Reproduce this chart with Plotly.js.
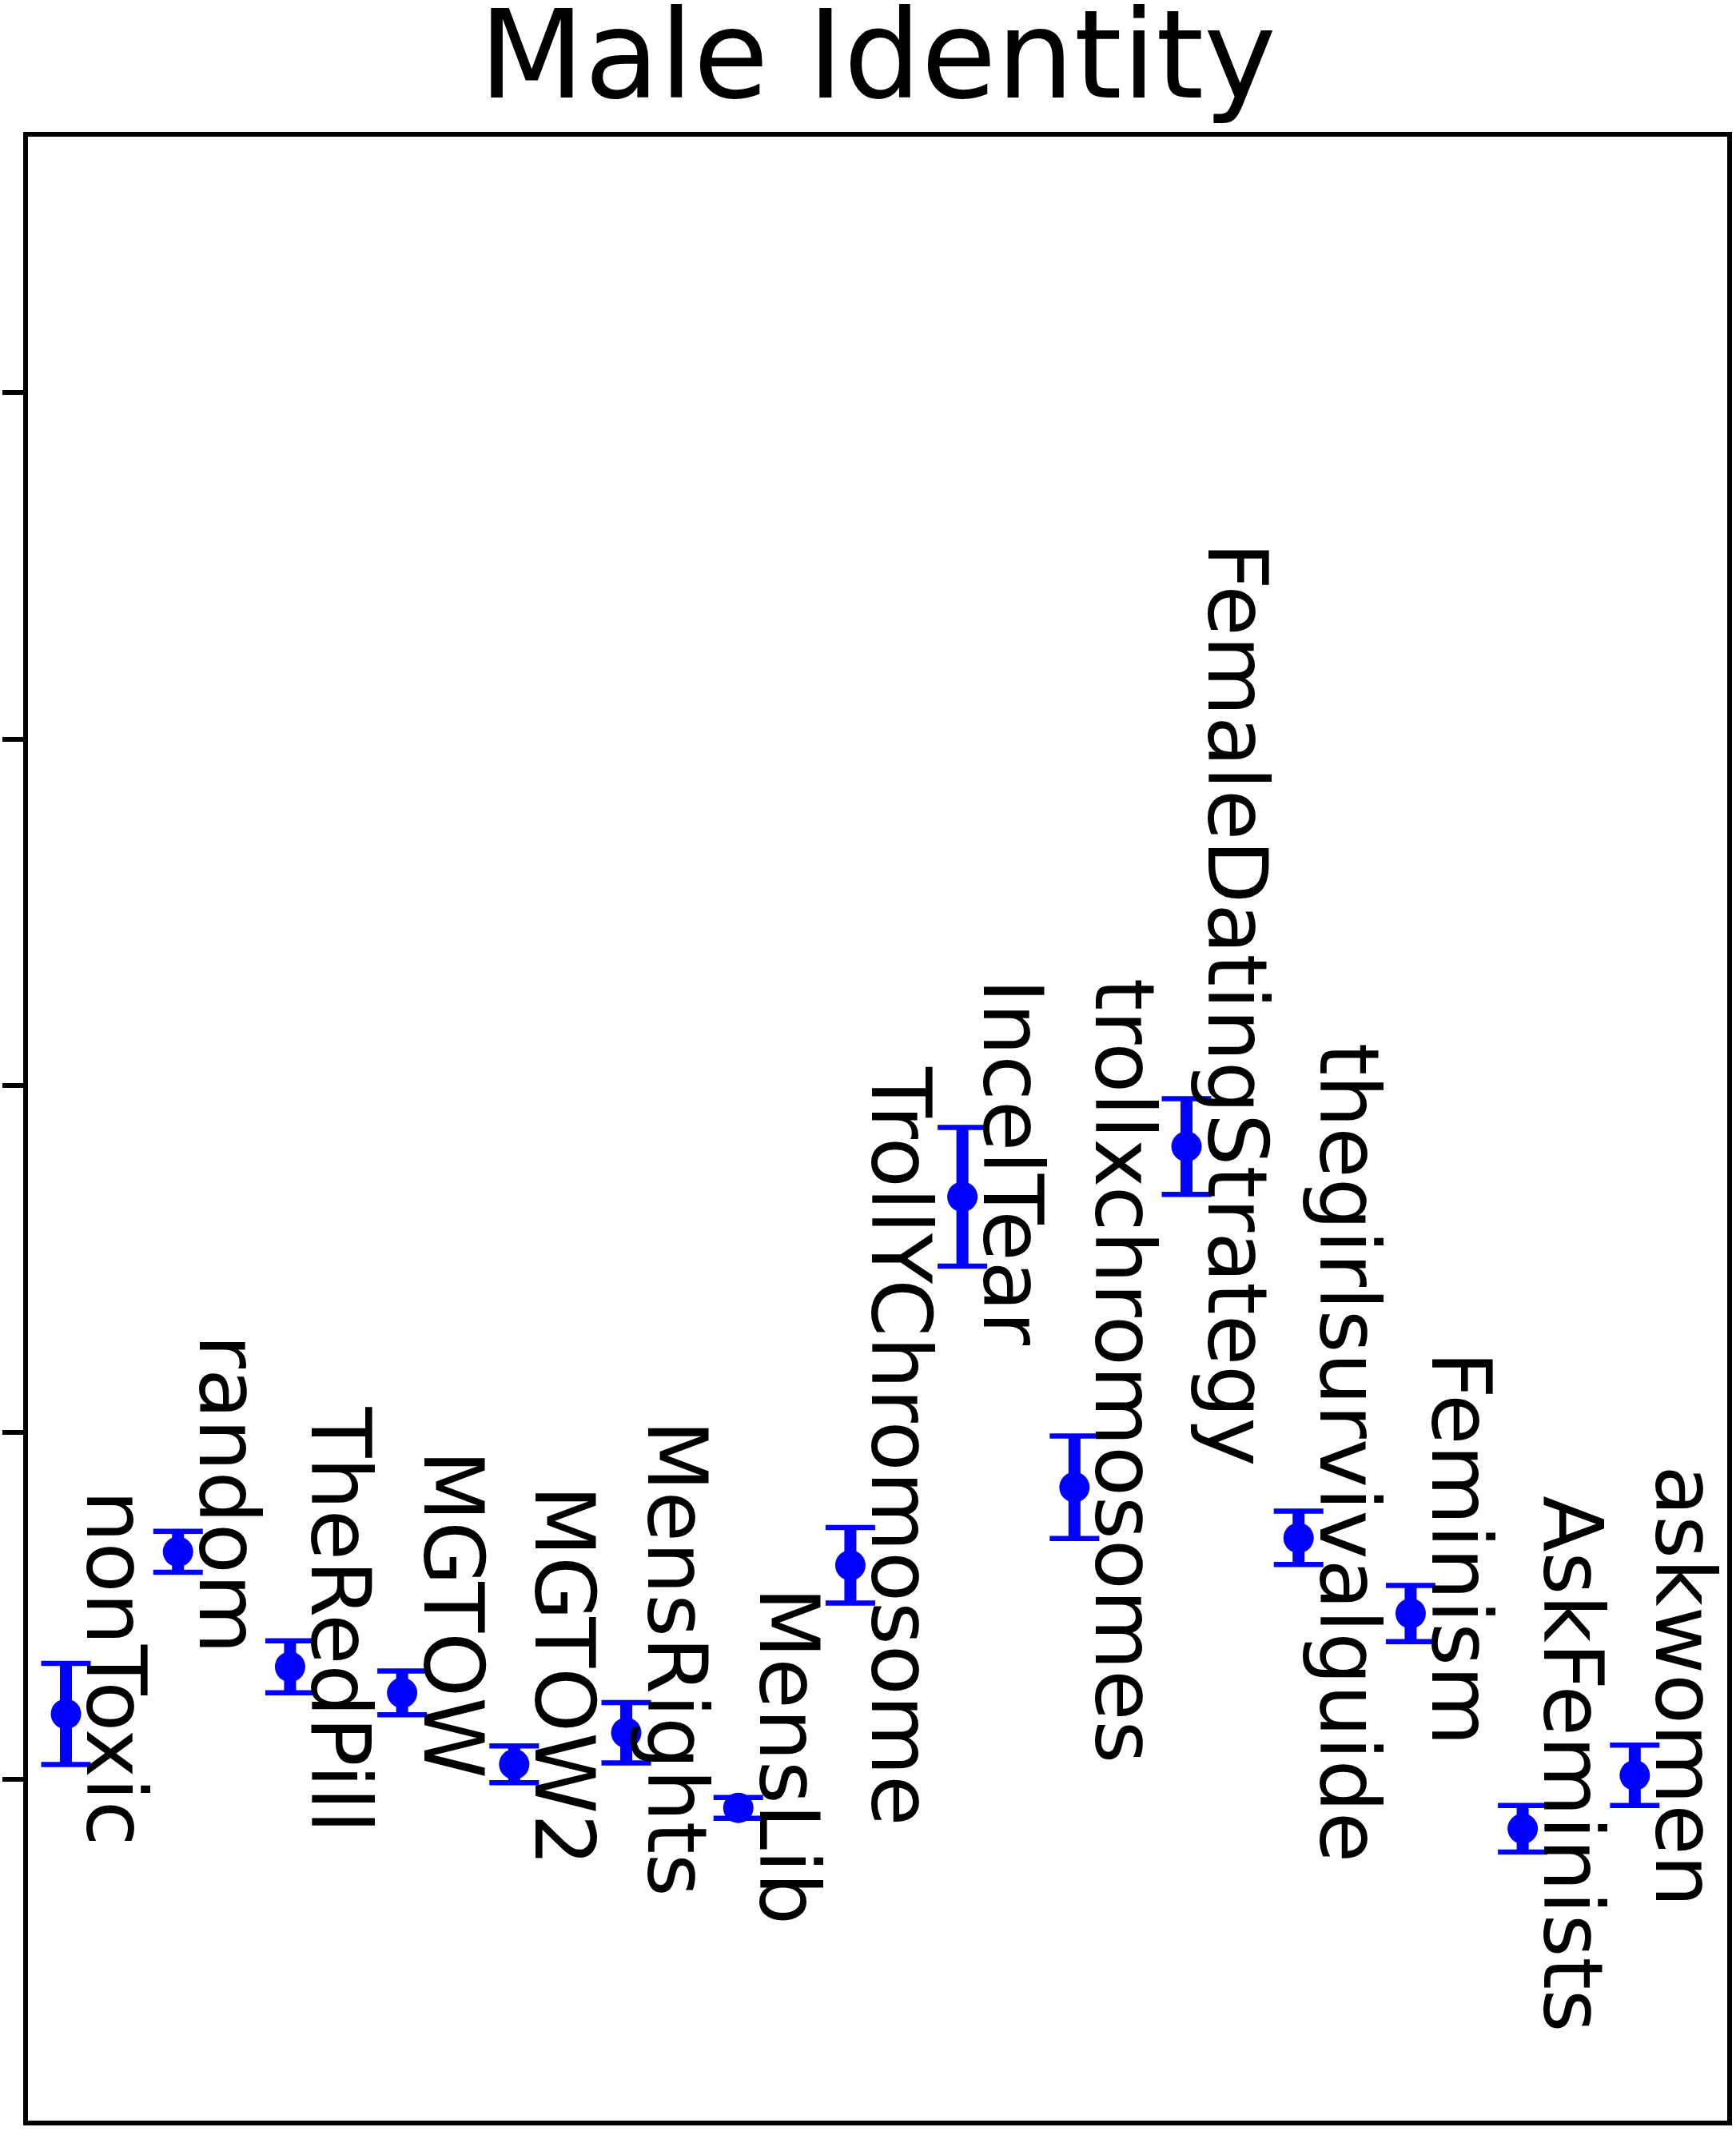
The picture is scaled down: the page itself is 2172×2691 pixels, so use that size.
<!DOCTYPE html>
<html>
<head>
<meta charset="utf-8">
<script src="https://cdn.plot.ly/plotly-3.0.1.min.js"></script>
<style>
  html, body { margin: 0; padding: 0; background: #fff; }
  #chart { width: 2172px; height: 2691px; }
</style>
</head>
<body>
<div id="chart"></div>
<script>
// subreddits, left to right
const subreddits = [
  'nonToxic', 'random', 'TheRedPill', 'MGTOW', 'MGTOW2', 'MensRights', 'MensLib',
  'TrollYChromosome', 'IncelTear', 'trollxchromosomes', 'FemaleDatingStrategy',
  'thegirlsurvivalguide', 'Feminism', 'AskFeminists', 'askwomen'
];

// mean score per subreddit and its error
const meanScore = [
  0.1188, 0.1656, 0.1324, 0.1249, 0.1043, 0.1134, 0.0917,
  0.1617, 0.2680, 0.1842, 0.2825,
  0.1696, 0.1478, 0.0857, 0.1011
];
const scoreErr = [
  0.0146, 0.0059, 0.0075, 0.0063, 0.0053, 0.0087, 0.0030,
  0.0109, 0.0200, 0.0148, 0.0138,
  0.0077, 0.0081, 0.0067, 0.0087
];

// where each label starts (top of the rotated text)
const labelTop = [
  0.1806, 0.2254, 0.2048, 0.1922, 0.1819, 0.2009, 0.1526,
  0.3029, 0.3282, 0.3282, 0.4541,
  0.3097, 0.2207, 0.1791, 0.1878
];

const yTicks = [0.1, 0.2, 0.3, 0.4, 0.5];

const xIdx = subreddits.map((s, i) => i);
const FONT = 'DejaVu Sans, Liberation Sans, sans-serif';

const traces = [
  // thin caps
  {
    x: xIdx,
    y: meanScore,
    mode: 'markers',
    marker: { color: 'rgba(0,0,0,0)', size: 1 },
    error_y: { type: 'data', array: scoreErr, color: '#0000ff', thickness: 6.5, width: 31 },
    hoverinfo: 'skip',
  },
  // thick stems + points
  {
    x: xIdx,
    y: meanScore,
    mode: 'markers',
    marker: { color: '#0000ff', size: 38 },
    error_y: { type: 'data', array: scoreErr, color: '#0000ff', thickness: 15, width: 0 },
  },
];

const annotations = subreddits.map((name, i) => ({
  x: i,
  y: labelTop[i],
  xref: 'x',
  yref: 'y',
  text: name,
  showarrow: false,
  textangle: 90,
  xanchor: 'left',
  yanchor: 'top',
  xshift: 1,
  yshift: 14,
  font: { family: FONT, size: 103, color: '#000' },
}));

const layout = {
  width: 2172,
  height: 2691,
  margin: { l: 35, r: 11, t: 171, b: 38, pad: 0 },
  paper_bgcolor: '#fff',
  plot_bgcolor: '#fff',
  showlegend: false,
  font: { family: FONT, color: '#000' },
  title: {
    text: 'Male Identity',
    font: { family: FONT, size: 153, color: '#000' },
    xref: 'paper',
    x: 0.5,
    yref: 'container',
    y: 0.9747,
    yanchor: 'middle',
  },
  xaxis: {
    range: [-0.339, 14.825],
    showgrid: false,
    zeroline: false,
    showticklabels: false,
    ticks: '',
    showline: true,
    mirror: true,
    linecolor: '#000',
    linewidth: 6,
  },
  yaxis: {
    range: [0.0015, 0.5738],
    tickvals: yTicks,
    showticklabels: false,
    ticks: 'outside',
    ticklen: 26,
    tickwidth: 6,
    tickcolor: '#000',
    showgrid: false,
    zeroline: false,
    showline: true,
    mirror: true,
    linecolor: '#000',
    linewidth: 6,
  },
  annotations: annotations,
};

Plotly.newPlot('chart', traces, layout, { staticPlot: true });
</script>
</body>
</html>
